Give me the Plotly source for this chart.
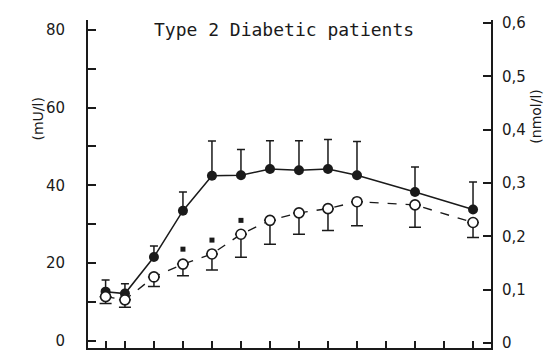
import plotly.graph_objects as go

# time in minutes
time = [-10, 0, 15, 30, 45, 60, 75, 90, 105, 120, 150, 180]

# insulin (filled circles, left axis, mU/l) with upward SD
insulin = [12.7, 12.2, 21.6, 33.5, 42.5, 42.6, 44.2, 43.9, 44.2, 42.6, 38.3, 33.8]
insulin_err = [3.0, 2.5, 2.8, 4.8, 8.9, 6.6, 7.3, 7.6, 7.6, 8.7, 6.4, 7.1]

# C-peptide (open circles, right axis, nmol/l) with downward SD
cpep = [0.087, 0.081, 0.124, 0.148, 0.167, 0.204, 0.230, 0.244, 0.252, 0.265, 0.259, 0.226]
cpep_err = [0.013, 0.014, 0.018, 0.022, 0.030, 0.043, 0.045, 0.040, 0.041, 0.045, 0.042, 0.028]

# significance markers (right axis)
sig_time = [30, 45, 60]
sig_val = [0.176, 0.193, 0.230]

left_vals = [0, 10, 20, 30, 40, 50, 60, 70, 80]
left_text = ["0", "", "20", "", "40", "", "60", "", "80"]
right_vals = [0, 0.1, 0.2, 0.3, 0.4, 0.5, 0.6]
right_text = ["0", "0,1", "0,2", "0,3", "0,4", "0,5", "0,6"]
x_ticks = [-10, 0, 15, 30, 45, 60, 75, 90, 105, 120, 135, 150, 165, 180]

ink = "#1a1a1a"
fig = go.Figure()

fig.add_trace(go.Scatter(
    x=time, y=insulin, mode="lines+markers",
    line=dict(color=ink, width=1.5),
    marker=dict(color=ink, size=10, symbol="circle"),
    error_y=dict(type="data", symmetric=False, array=insulin_err,
                 arrayminus=[0] * len(insulin), color=ink, thickness=1.5, width=4),
    yaxis="y", showlegend=False))

fig.add_trace(go.Scatter(
    x=time, y=cpep, mode="lines+markers",
    line=dict(color=ink, width=1.4, dash="dash"),
    marker=dict(color="white", size=10, symbol="circle",
                line=dict(color=ink, width=1.6)),
    error_y=dict(type="data", symmetric=False, array=[0] * len(cpep),
                 arrayminus=cpep_err, color=ink, thickness=1.5, width=6),
    yaxis="y2", showlegend=False))

fig.add_trace(go.Scatter(
    x=sig_time, y=sig_val, mode="markers",
    marker=dict(color=ink, size=5, symbol="square"),
    yaxis="y2", showlegend=False))

fig.update_layout(
    width=549, height=359,
    margin=dict(l=88, r=58, t=20, b=7),
    paper_bgcolor="white", plot_bgcolor="white",
    font=dict(family="DejaVu Sans", color=ink, size=15),
    xaxis=dict(range=[-19.1, 189.3], showgrid=False, zeroline=False,
               showline=True, linecolor=ink, linewidth=2,
               tickmode="array", tickvals=x_ticks, ticktext=[""] * len(x_ticks),
               ticks="inside", ticklen=7, tickwidth=2, tickcolor=ink),
    yaxis=dict(range=[-1.78, 82.5], showgrid=False, zeroline=False,
               showline=True, linecolor=ink, linewidth=2,
               tickmode="array", tickvals=left_vals, ticktext=left_text,
               ticks="inside", ticklen=8, tickwidth=2, tickcolor=ink,
               ticklabelstandoff=18, tickfont=dict(size=15)),
    yaxis2=dict(range=[-0.00926, 0.6056], overlaying="y", side="right",
                showgrid=False, zeroline=False,
                showline=True, linecolor=ink, linewidth=2,
                tickmode="array", tickvals=right_vals, ticktext=right_text,
                ticks="inside", ticklen=8, tickwidth=2, tickcolor=ink,
                ticklabelstandoff=6, tickfont=dict(size=15)),
    annotations=[
        dict(text="Type 2 Diabetic patients", x=284, y=359 - 17,
             xref="paper", yref="paper", showarrow=False,
             font=dict(family="DejaVu Sans Mono", size=18, color=ink)),
        dict(text="(mU/l)", x=28, y=359 - 97, textangle=-90,
             xref="paper", yref="paper", showarrow=False,
             font=dict(size=14, color=ink)),
        dict(text="(nmol/l)", x=546, y=359 - 88, textangle=-90,
             xref="paper", yref="paper", showarrow=False,
             font=dict(size=14, color=ink)),
    ],
)

# convert pixel-based annotation positions into paper coordinates
plot_w = 549 - 88 - 58
plot_h = 359 - 20 - 7
new_ann = []
for a in fig.layout.annotations:
    a.x = (a.x - 88) / plot_w
    a.y = (a.y - 7) / plot_h
    new_ann.append(a)
fig.layout.annotations = new_ann

fig.write_html("out.html")
